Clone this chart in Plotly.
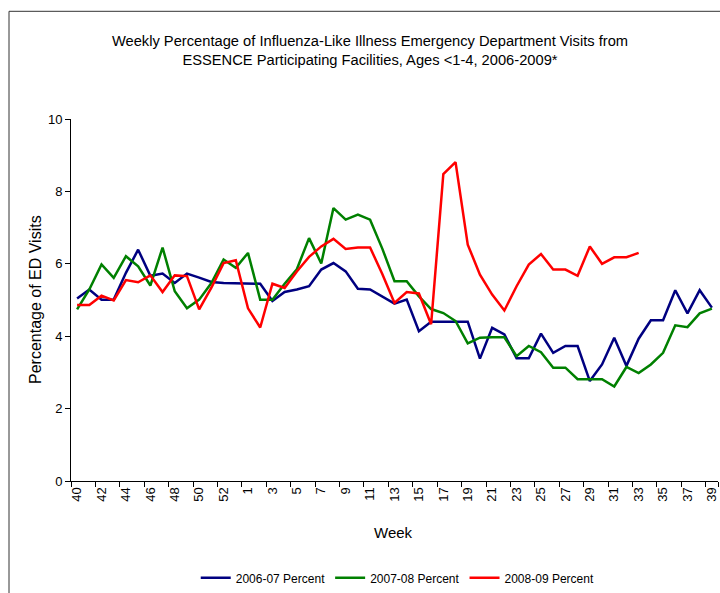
import plotly.graph_objects as go

# Week categories (MMWR weeks 40-53, then 1-39)
weeks = ["40", "41", "42", "43", "44", "45", "46", "47", "48", "49", "50", "51", "52", "53",
         "1", "2", "3", "4", "5", "6", "7", "8", "9", "10", "11", "12", "13", "14", "15", "16",
         "17", "18", "19", "20", "21", "22", "23", "24", "25", "26", "27", "28", "29", "30",
         "31", "32", "33", "34", "35", "36", "37", "38", "39"]

tick_labels = ["40", "42", "44", "46", "48", "50", "52", "1", "3", "5", "7", "9", "11", "13",
               "15", "17", "19", "21", "23", "25", "27", "29", "31", "33", "35", "37", "39"]

pct_2006_07 = [5.04, 5.29, 5.01, 5.01, 5.75, 6.39, 5.67, 5.73, 5.47, 5.73, 5.62, 5.50, 5.47, 5.47,
               5.45, 5.45, 4.97, 5.22, 5.29, 5.38, 5.84, 6.02, 5.79, 5.31, 5.29, 5.10, 4.90, 5.01,
               4.14, 4.40, 4.40, 4.40, 4.40, 3.38, 4.23, 4.05, 3.39, 3.39, 4.07, 3.54, 3.73, 3.73,
               2.76, 3.22, 3.96, 3.18, 3.93, 4.44, 4.44, 5.27, 4.63, 5.27, 4.79]

pct_2007_08 = [4.74, 5.29, 5.98, 5.61, 6.21, 5.93, 5.40, 6.45, 5.24, 4.77, 5.01, 5.47, 6.12, 5.89,
               6.30, 5.01, 5.01, 5.45, 5.85, 6.71, 6.01, 7.54, 7.22, 7.36, 7.22, 6.42, 5.52, 5.52,
               5.10, 4.75, 4.64, 4.42, 3.80, 3.96, 3.97, 3.97, 3.45, 3.73, 3.56, 3.13, 3.13, 2.81,
               2.81, 2.81, 2.61, 3.15, 2.98, 3.22, 3.54, 4.30, 4.25, 4.63, 4.76]

pct_2008_09 = [4.86, 4.86, 5.12, 4.99, 5.55, 5.49, 5.68, 5.22, 5.68, 5.66, 4.74, 5.34, 6.02, 6.10,
               4.77, 4.24, 5.45, 5.33, 5.79, 6.19, 6.48, 6.69, 6.41, 6.45, 6.45, 5.72, 4.92, 5.22,
               5.18, 4.33, 8.48, 8.81, 6.53, 5.70, 5.15, 4.71, 5.38, 5.98, 6.27, 5.84, 5.84, 5.67,
               6.48, 6.00, 6.18, 6.18, 6.30]

series_names = ["2006-07 Percent", "2007-08 Percent", "2008-09 Percent"]
series_colors = ["#000080", "#008000", "#FF0000"]

FONT = "Liberation Sans, Arial, sans-serif"

fig = go.Figure()
for name, vals, col in zip(series_names, [pct_2006_07, pct_2007_08, pct_2008_09], series_colors):
    fig.add_trace(go.Scatter(
        x=weeks[:len(vals)], y=vals, name=name, mode="lines",
        line=dict(color=col, width=2.5),
    ))

fig.update_layout(
    width=720, height=593,
    paper_bgcolor="white", plot_bgcolor="white",
    margin=dict(l=71, r=2, t=119, b=111),
    font=dict(family=FONT, color="#000000", size=13),
    showlegend=True,
    legend=dict(orientation="h", x=0.505, xanchor="center", y=-0.264, yanchor="middle",
                font=dict(size=12, family=FONT), itemwidth=30, tracegroupgap=0),
    title=dict(text="Weekly Percentage of Influenza-Like Illness Emergency Department Visits from<br>"
                    "ESSENCE Participating Facilities, Ages <1-4, 2006-2009*",
               x=370 / 720, xanchor="center", y=1 - 46 / 593, yref="container", yanchor="middle",
               font=dict(size=14.7, family=FONT, color="#000000")),
)

fig.update_xaxes(
    type="category", categoryorder="array", categoryarray=weeks,
    range=[-0.5, len(weeks) - 0.5],
    tickmode="array", tickvals=tick_labels, ticktext=tick_labels,
    tickson="boundaries", tickangle=-90,
    ticks="outside", ticklen=5, tickcolor="#000000", tickwidth=1,
    showline=True, linecolor="#000000", linewidth=1,
    showgrid=False, zeroline=False,
    tickfont=dict(size=13, family=FONT, color="#000000"),
)
fig.update_yaxes(
    range=[0, 10], dtick=2, tick0=0,
    ticks="outside", ticklen=5, tickcolor="#000000", tickwidth=1,
    showline=True, linecolor="#000000", linewidth=1,
    showgrid=False, zeroline=False,
    tickfont=dict(size=13, family=FONT, color="#000000"),
)

fig.add_annotation(text="Percentage of ED Visits", xref="paper", yref="paper",
                   x=(35 - 71) / 647, y=0.5, textangle=-90, showarrow=False,
                   xanchor="center", yanchor="middle",
                   font=dict(size=16, family=FONT, color="#000000"))
fig.add_annotation(text="Week", xref="paper", yref="paper",
                   x=(393 - 71) / 647, y=(482 - 534) / 363, showarrow=False,
                   xanchor="center", yanchor="middle",
                   font=dict(size=15, family=FONT, color="#000000"))

# outer chart frame
fig.add_shape(type="rect", xref="paper", yref="paper",
              x0=(9 - 71) / 647, x1=1.2, y0=-0.5, y1=(482 - 11) / 363,
              line=dict(color="#333333", width=1), fillcolor="rgba(0,0,0,0)", layer="below")

fig.write_html("out.html",
               config={"displayModeBar": False},
               post_script="document.body.style.margin='0px';document.body.style.overflow='hidden';")
